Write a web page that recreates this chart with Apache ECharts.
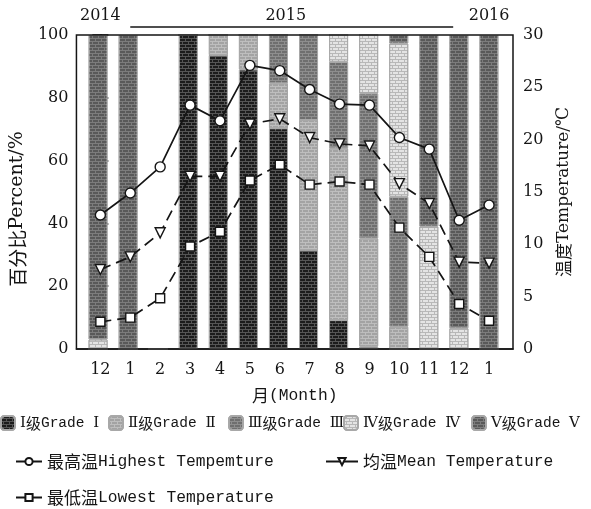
<!DOCTYPE html>
<html>
<head>
<meta charset="utf-8">
<script src="https://cdn.jsdelivr.net/npm/echarts@6/dist/echarts.min.js"></script>
<style>
html, body { margin: 0; padding: 0; background: #fff; }
#chart { width: 591px; height: 509px; }
</style>
</head>
<body>
<div id="chart"></div>
<script>
// Months from Dec 2014 to Jan 2016
const months = ['12', '1', '2', '3', '4', '5', '6', '7', '8', '9', '10', '11', '12', '1'];
const years = ['2014', '2015', '2016'];

// Share of days per grade (%), stacked bottom to top
const gradeI   = [0, 0, 0, 100, 93.6, 89.0, 70.3, 31.5, 9.2, 0.8, 0, 0, 0, 0];
const gradeII  = [0, 0, 0, 0, 6.4, 11.0, 14.3, 41.4, 54.7, 34.4, 7.1, 0, 0, 0];
const gradeIII = [0, 0, 0, 0, 0, 0, 15.4, 27.1, 27.6, 46.2, 41.4, 0, 0, 0];
const gradeIV  = [3.0, 0, 0, 0, 0, 0, 0, 0, 8.5, 18.6, 48.8, 39.0, 6.6, 0];
const gradeV   = [97.0, 100, 0, 0, 0, 0, 0, 0, 0, 0, 2.7, 61.0, 93.4, 100];

// Monthly temperatures (°C)
const highTemp = [12.8, 14.9, 17.4, 23.3, 21.8, 27.1, 26.6, 24.8, 23.4, 23.3, 20.2, 19.1, 12.3, 13.75];
const meanTemp = [7.6, 8.8, 11.1, 16.5, 16.5, 21.5, 22.0, 20.2, 19.6, 19.4, 15.8, 13.9, 8.3, 8.2];
const lowTemp  = [2.6, 3.0, 4.85, 9.8, 11.2, 16.1, 17.6, 15.7, 16.0, 15.7, 11.6, 8.8, 4.3, 2.7];

const gradeNames = ['Ⅰ级Grade Ⅰ', 'Ⅱ级Grade Ⅱ', 'Ⅲ级Grade Ⅲ', 'Ⅳ级Grade Ⅳ', 'Ⅴ级Grade Ⅴ'];
const highName = '最高温Highest Tempemture';
const meanName = '均温Mean Temperature';
const lowName = '最低温Lowest Temperature';

const SERIF = 'DejaVu Serif';
const MONO = 'Liberation Mono';
const CJK = 'Noto Sans CJK SC';
const INK = '#151515';

// Frame geometry: the outer box and the narrower band strip for the bars
const BOX = { left: 74, right: 78, top: 35, bottom: 160 };
const X_PAD = 0.8;          // extra space (in month units) at each end of the frame
const N = months.length;

// Split a label into rich-text runs: CJK, roman numerals, latin
function toRich(text) {
  let out = '', cur = null, buf = '';
  const kind = ch => /[\u4e00-\u9fff]/.test(ch) ? 'c' : (/[\u2160-\u216f]/.test(ch) ? 'n' : 'l');
  for (const ch of text) {
    const k = kind(ch);
    if (k !== cur && buf) { out += '{' + cur + '|' + buf + '}'; buf = ''; }
    cur = k; buf += ch;
  }
  if (buf) out += '{' + cur + '|' + buf + '}';
  return out;
}

// Brick-textured fill for a grade
function brick(mortar, stone) {
  return {
    color: mortar,
    borderColor: '#a8a8a8',
    borderWidth: 1,
    decal: {
      symbol: 'rect',
      symbolSize: 1,
      color: stone,
      dashArrayX: [[5, 1], [2, 1, 3, 0]],
      dashArrayY: [2, 1],
      rotation: 0
    }
  };
}

const gradeStyles = [
  brick('#555555', '#1c1c1c'),
  brick('#bebebe', '#a3a3a3'),
  brick('#8e8e8e', '#6f6f6f'),
  brick('#b8b8b8', '#e4e4e4'),
  brick('#7c7c7c', '#595959')
];
const gradeData = [gradeI, gradeII, gradeIII, gradeIV, gradeV];

const barSeries = gradeData.map((arr, k) => ({
  name: gradeNames[k],
  type: 'bar',
  stack: 'grade',
  xAxisIndex: 2,
  yAxisIndex: 2,
  barWidth: 19,
  itemStyle: gradeStyles[k],
  data: arr,
  z: 2
}));

const pairs = arr => arr.map((v, i) => [i, v]);
const markerStyle = { color: '#ffffff', borderColor: INK, borderWidth: 1.4 };

const lineSeries = [
  {
    name: highName, type: 'line', xAxisIndex: 0, yAxisIndex: 1,
    symbol: 'circle', symbolSize: 10,
    lineStyle: { color: INK, width: 1.7, type: 'solid' },
    itemStyle: markerStyle, data: pairs(highTemp), z: 5
  },
  {
    name: meanName, type: 'line', xAxisIndex: 0, yAxisIndex: 1,
    symbol: 'triangle', symbolSize: 10, symbolRotate: 180,
    lineStyle: { color: INK, width: 1.7, type: [11, 6] },
    itemStyle: markerStyle, data: pairs(meanTemp), z: 5
  },
  {
    name: lowName, type: 'line', xAxisIndex: 0, yAxisIndex: 1,
    symbol: 'rect', symbolSize: 9,
    lineStyle: { color: INK, width: 1.7, type: [11, 6] },
    itemStyle: markerStyle, data: pairs(lowTemp), z: 5
  }
];

const gradeRich = {
  c: { fontFamily: CJK, fontSize: 15, color: INK },
  n: { fontFamily: SERIF, fontSize: 15, color: INK },
  l: { fontFamily: MONO, fontSize: 14.5, color: INK }
};
const lineRich = {
  c: { fontFamily: CJK, fontSize: 17, color: INK },
  n: { fontFamily: SERIF, fontSize: 16, color: INK },
  l: { fontFamily: MONO, fontSize: 16.3, color: INK }
};

const gradeLefts = [0, 108, 228, 343, 471];
const legends = gradeNames.map((n, k) => ({
  data: [n], left: gradeLefts[k], top: 415, itemWidth: 14, itemHeight: 14,
  padding: 0, formatter: toRich, textStyle: { rich: gradeRich }
}));
const lineLegend = (n, left, top, w) => ({
  data: [n], left: left, top: top, itemWidth: w, itemHeight: 9, padding: 0,
  lineStyle: { type: 'solid', width: 2 },
  formatter: toRich, textStyle: { rich: lineRich }
});
legends.push(lineLegend(highName, 15, 453, 26));
legends.push(lineLegend(meanName, 325, 453, 32));
legends.push(lineLegend(lowName, 15, 489, 26));

// Band strip for the bars: same vertical extent, inset so band centres fall on month positions
const plotW = 591 - BOX.left - BOX.right;
const unit = plotW / (N - 1 + 2 * X_PAD);
const inset = (X_PAD - 0.5) * unit;
const barGrid = {
  left: BOX.left + inset, right: BOX.right + inset, top: BOX.top, bottom: BOX.bottom,
  show: false
};

const chart = echarts.init(document.getElementById('chart'), null, { renderer: 'canvas' });
const tickLabel = { fontFamily: SERIF, fontSize: 16, color: INK };

chart.setOption({
  animation: false,
  backgroundColor: '#ffffff',
  grid: [
    Object.assign({ show: true, borderColor: INK, borderWidth: 1.5, backgroundColor: 'transparent', z: 3 }, BOX),
    barGrid
  ],
  xAxis: [
    {
      gridIndex: 0, type: 'value', min: -X_PAD, max: N - 1 + X_PAD, position: 'bottom',
      axisLine: { show: true, lineStyle: { color: INK, width: 1.5 } },
      axisTick: { show: false },
      splitLine: { show: false },
      axisLabel: Object.assign({
        customValues: months.map((_, i) => i),
        formatter: v => months[Math.round(v)],
        margin: 13
      }, tickLabel),
      name: toRich('月(Month)'),
      nameLocation: 'middle',
      nameGap: 38,
      nameTextStyle: { rich: lineRich }
    },
    {
      gridIndex: 0, type: 'value', min: -X_PAD, max: N - 1 + X_PAD, position: 'top',
      axisLine: { show: false },
      axisTick: { show: false },
      splitLine: { show: false },
      axisLabel: Object.assign({
        customValues: [0, 6.2, N - 1],
        formatter: v => (v < 1 ? years[0] : (v < 10 ? years[1] : years[2])),
        margin: 11
      }, tickLabel)
    },
    {
      gridIndex: 1, type: 'category', data: months, boundaryGap: true,
      show: false
    }
  ],
  yAxis: [
    {
      gridIndex: 0, type: 'value', min: 0, max: 100, interval: 20, position: 'left',
      axisLine: { show: true, lineStyle: { color: INK, width: 1.5 } },
      axisTick: { show: true, inside: true, length: 8, lineStyle: { color: INK, width: 1.5 } },
      splitLine: { show: false },
      axisLabel: Object.assign({ margin: 8 }, tickLabel),
      name: toRich('百分比Percent/%'),
      nameLocation: 'middle',
      nameRotate: 90,
      nameGap: 44,
      nameTextStyle: {
        padding: [0, 34, 0, 0],
        rich: {
          c: { fontFamily: CJK, fontSize: 19, color: INK },
          l: { fontFamily: SERIF, fontSize: 19, color: INK }
        }
      }
    },
    {
      gridIndex: 0, type: 'value', min: 0, max: 30, interval: 5, position: 'right',
      axisLine: { show: true, lineStyle: { color: INK, width: 1.5 } },
      axisTick: { show: true, inside: true, length: 8, lineStyle: { color: INK, width: 1.5 } },
      splitLine: { show: false },
      axisLabel: Object.assign({ margin: 10 }, tickLabel),
      name: toRich('温度Temperature/℃'),
      nameLocation: 'middle',
      nameRotate: 90,
      nameGap: 42,
      nameTextStyle: {
        rich: {
          c: { fontFamily: CJK, fontSize: 17, color: INK },
          l: { fontFamily: SERIF, fontSize: 17, color: INK }
        }
      }
    },
    {
      gridIndex: 1, type: 'value', min: 0, max: 100, show: false
    }
  ],
  legend: legends,
  series: barSeries.concat(lineSeries)
});

// Bracket over the months of 2015, placed from the axis scale
const x1 = chart.convertToPixel({ xAxisIndex: 0 }, 1);
const x2 = chart.convertToPixel({ xAxisIndex: 0 }, 11.8);
chart.setOption({
  graphic: [{
    type: 'line',
    shape: { x1: x1, y1: 27, x2: x2, y2: 27 },
    style: { stroke: INK, lineWidth: 1.5 }
  }]
});
</script>
</body>
</html>
